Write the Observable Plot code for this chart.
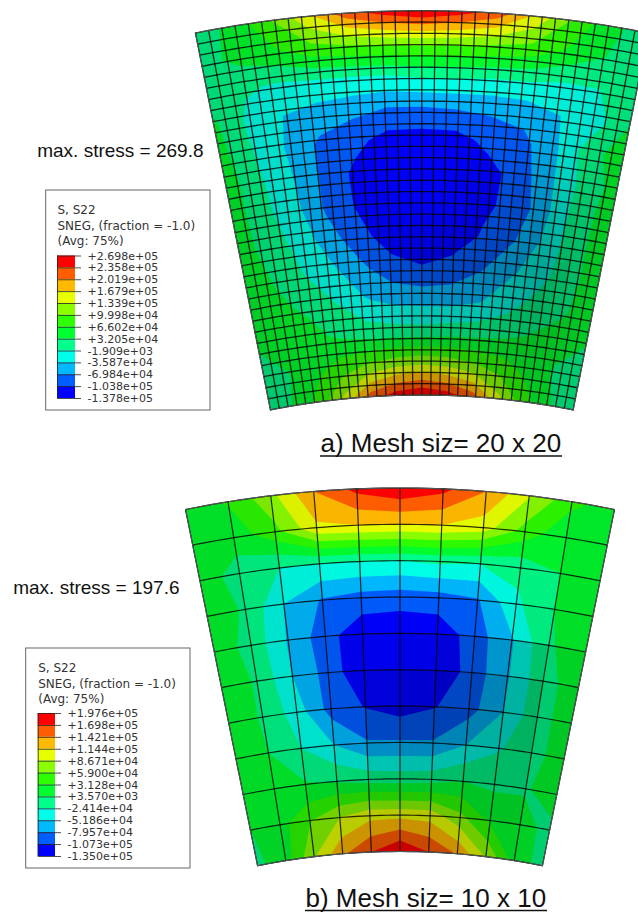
<!DOCTYPE html>
<html>
<head>
<meta charset="utf-8">
<script src="https://cdn.jsdelivr.net/npm/d3@7"></script>
<script src="https://cdn.jsdelivr.net/npm/@observablehq/plot@0.6"></script>
<style>html,body{margin:0;padding:0;background:#fff}</style>
</head>
<body>
<div id="chart"></div>
<script>
// Legend of each contour plot, top to bottom
const legendHeader = ["S, S22", "SNEG, (fraction = -1.0)", "(Avg: 75%)"];
const legendA = ["+2.698e+05","+2.358e+05","+2.019e+05","+1.679e+05","+1.339e+05","+9.998e+04","+6.602e+04","+3.205e+04","-1.909e+03","-3.587e+04","-6.984e+04","-1.038e+05","-1.378e+05"];
const legendB = ["+1.976e+05","+1.698e+05","+1.421e+05","+1.144e+05","+8.671e+04","+5.900e+04","+3.128e+04","+3.570e+03","-2.414e+04","-5.186e+04","-7.957e+04","-1.073e+05","-1.350e+05"];
// Band colours, lowest band first
const bandColors = ["#0000ff","#005dff","#00b9ff","#00ffe8","#00ff8b","#00ff2e","#2eff00","#8bff00","#e8ff00","#ffb900","#ff5d00","#ff0000"];

// Stress, in legend-band units (0 = legend minimum, 12 = legend maximum).
// Rows run from the outer arc to the inner arc, columns from left to right.
const fieldA = [
 [4.5,5.3,7.0,8.8,10.6,11.5,12,11.5,10.6,8.8,6.9,5.3,4.5],
 [4.6,5.3,5.8,6.7,7.0,7.2,7.3,7.2,7.0,6.7,5.8,5.0,4.6],
 [4.7,4.1,3.9,4.0,4.0,4.0,4.2,4.2,4.1,4.1,3.9,4.0,4.9],
 [5.2,3.8,3.0,2.6,2.3,2.0,2.0,2.1,2.2,2.4,3.0,3.5,5.0],
 [5.4,4.0,2.9,1.8,1.3,0.6,0.55,0.6,1.3,1.7,2.9,4.6,5.6],
 [5.6,4.2,3.1,1.8,0.75,0.4,0.3,0.3,0.6,1.5,2.9,4.4,5.4],
 [5.6,4.3,3.3,1.8,0.85,0.15,0.1,0.1,0.85,1.3,2.9,4.6,5.5],
 [5.6,4.5,3.7,2.4,1.3,0.5,0.3,0.5,1.1,1.9,3.2,4.7,5.5],
 [5.6,4.9,4.0,3.2,2.2,1.35,1.05,1.3,1.9,2.8,3.6,4.7,5.5],
 [5.6,5.2,4.8,4.0,3.1,2.7,2.6,2.6,2.9,3.6,4.4,4.9,5.5],
 [5.1,5.4,5.3,4.8,4.5,4.4,4.35,4.5,4.6,4.8,5.1,5.3,5.0],
 [4.6,5.0,5.7,6.5,7.1,7.6,7.8,7.6,7.1,6.5,5.7,4.9,4.4],
 [4.4,5.1,6.4,8.3,10.5,11.5,12,11.5,10.5,8.3,6.4,5.1,4.3]
];
const fieldB = [
 [5.5,6.1,7.7,10.0,11.3,11.9,11.3,10.0,8.1,6.3,5.5],
 [5.5,5.4,6.7,8.8,9.0,9.0,9.0,8.5,6.6,5.2,5.5],
 [5.5,4.6,4.0,4.0,4.0,4.0,4.2,4.0,4.3,5.0,5.5],
 [5.5,4.9,3.0,1.9,1.6,1.5,1.6,1.9,3.8,5.0,5.3],
 [5.5,4.7,2.9,1.4,0.3,0.2,0.3,1.5,2.9,4.9,5.5],
 [5.6,4.9,3.0,1.6,0.1,0.05,0.15,1.4,2.9,4.7,5.4],
 [5.6,4.9,3.5,1.6,0.95,0.55,0.95,1.6,3.0,4.7,5.4],
 [5.6,5.0,4.0,3.0,2.1,2.1,2.1,3.0,3.9,4.7,5.4],
 [5.6,5.3,5.1,4.9,4.6,4.5,4.6,5.0,4.8,4.9,5.6],
 [5.0,5.6,6.9,8.0,8.7,8.7,8.6,7.3,5.8,5.4,4.7],
 [4.8,5.5,7.9,9.8,11.0,12,11.0,9.9,7.9,5.6,4.6]
];
// Darkening of the rendered surface, as black opacity on a coarse grid
const shadeA = [
 [.15,.1,.03,0,.03,.08,.15],
 [.15,.1,.02,0,.02,.05,.12],
 [.17,.1,.03,0,.03,.1,.17],
 [.2,.15,.08,.02,.12,.28,.2],
 [.2,.15,.1,.2,.28,.36,.2],
 [.2,.15,.12,.22,.22,.28,.2],
 [.22,.2,.2,.2,.2,.2,.2]
];
const shadeB = [
 [.15,.08,.02,0,.02,.05,.12],
 [.15,.1,.02,0,.02,.05,.12],
 [.15,.1,.05,0,.03,.05,.15],
 [.15,.12,.1,.1,.22,.32,.15],
 [.15,.12,.12,.3,.3,.32,.18],
 [.15,.15,.2,.22,.22,.25,.18],
 [.18,.18,.2,.2,.2,.18,.18]
];

const rad = Math.PI / 180;
function fanMapper(f) {
  return (u, v) => { // u, v in 0..1
    const t = (2 * u - 1) * f.theta * rad, r = f.rOuter + (f.rInner - f.rOuter) * v;
    return [f.cx + r * Math.sin(t), f.cy - r * Math.cos(t)];
  };
}
function bilinear(m, u, v) {
  const n = m.length - 1, a = Math.min(n - 1e-9, u * n), b = Math.min(n - 1e-9, v * n);
  const i = Math.floor(a), j = Math.floor(b), s = a - i, t = b - j;
  return (m[j][i] * (1 - s) + m[j][i + 1] * s) * (1 - t) + (m[j + 1][i] * (1 - s) + m[j + 1][i + 1] * s) * t;
}
function bandFeatures(field, map) {
  const n = field.length, m = field[0].length;
  const cols = m, flat = field.flat();
  const cs = d3.contours().size([cols, n]).thresholds([-1, 1, 2, 3, 4, 5, 6, 7, 8, 9, 10, 11])(flat);
  const tr = ([a, b]) => {
    const u = (Math.min(cols - .5, Math.max(.5, a)) - .5) / (cols - 1);
    const v = (Math.min(n - .5, Math.max(.5, b)) - .5) / (n - 1);
    return map(u, v);
  };
  return cs.map(c => ({
    type: "MultiPolygon",
    band: Math.max(0, c.value),
    coordinates: c.coordinates.map(p => p.map(r => r.map(tr)))
  }));
}
function shadeCells(shade, map, n) {
  const out = [];
  for (let j = 0; j < n; j++) for (let i = 0; i < n; i++) {
    const ring = [map(i / n, j / n), map((i + 1) / n, j / n), map((i + 1) / n, (j + 1) / n), map(i / n, (j + 1) / n), map(i / n, j / n)];
    out.push({type: "Polygon", coordinates: [ring], alpha: bilinear(shade, (i + .5) / n, (j + .5) / n)});
  }
  return out;
}
function meshPoints(map, n, steps) {
  const pts = [];
  for (let i = 0; i <= n; i++) for (let s = 0; s <= steps; s++) {
    const [x, y] = map(i / n, s / steps); pts.push({x, y, id: "c" + i});
  }
  for (let j = 0; j <= n; j++) for (let s = 0; s <= steps; s++) {
    const [x, y] = map(s / steps, j / n); pts.push({x, y, id: "r" + j});
  }
  return pts;
}
function outlinePoints(map, steps) {
  const pts = [];
  for (let s = 0; s <= steps; s++) { const [x, y] = map(s / steps, 0); pts.push({x, y}); }
  for (let s = 0; s <= steps; s++) { const [x, y] = map(1, s / steps); pts.push({x, y}); }
  for (let s = steps; s >= 0; s--) { const [x, y] = map(s / steps, 1); pts.push({x, y}); }
  for (let s = steps; s >= 0; s--) { const [x, y] = map(0, s / steps); pts.push({x, y}); }
  return pts;
}
function fanMarks(f, field, shade, n, meshWidth) {
  const map = fanMapper(f);
  return [
    Plot.geo(bandFeatures(field, map), {fill: d => d.band, stroke: null}),
    Plot.geo(shadeCells(shade, map, n), {fill: "black", fillOpacity: d => d.alpha, stroke: null}),
    Plot.line(meshPoints(map, n, 48), {x: "x", y: "y", z: "id", stroke: "#000", strokeWidth: meshWidth, strokeOpacity: .8, curve: "linear"}),
    Plot.line(outlinePoints(map, 48), {x: "x", y: "y", stroke: "#555", strokeWidth: 1.1, curve: "linear"})
  ];
}
function legendMarks(l, labels) {
  const step = (l.y1 - l.y0) / (labels.length - 1);
  const idx = d3.range(labels.length), bars = d3.range(labels.length - 1);
  const font = {fontFamily: "DejaVu Sans", fontSize: 11, fill: "#333", textAnchor: "start"};
  return [
    Plot.rect([0], {x1: l.boxX0, x2: l.boxX1, y1: l.boxY0, y2: l.boxY1, fill: "white", stroke: "#666", strokeWidth: 1}),
    Plot.text(legendHeader, {x: l.barX0, y: (d, i) => l.headY + i * 15.2, text: d => d, ...font, fontSize: 12}),
    Plot.rect(bars, {x1: l.barX0, x2: l.barX1, y1: i => l.y0 + i * step, y2: i => l.y0 + (i + 1) * step, fill: i => 11 - i}),
    Plot.ruleY(idx, {y: i => l.y0 + i * step, x1: l.barX0, x2: l.tickX, stroke: "#222", strokeWidth: .8}),
    Plot.ruleX([l.barX0], {y1: l.y0, y2: l.y1, stroke: "#222", strokeWidth: .8}),
    Plot.text(labels, {x: l.labelX, y: (d, i) => l.y0 + i * step, text: d => d, ...font})
  ];
}
function caption(txt, x, y, size, anchor) {
  return Plot.text([txt], {x, y, text: d => d, fontFamily: "Liberation Sans", fontSize: size, fill: "#111", textAnchor: anchor || "start"});
}

const fanA = {cx: 421.3, cy: 1169.5, rOuter: 1159.3, rInner: 775, theta: 11.26};
const fanB = {cx: 399.5, cy: 1569, rOuter: 1081.5, rInner: 718, theta: 11.44};

const chart = Plot.plot({
  width: 638, height: 912, margin: 0,
  style: {background: "white"},
  x: {domain: [0, 638], range: [0, 638], axis: null},
  y: {domain: [0, 912], range: [0, 912], axis: null},
  color: {type: "ordinal", domain: d3.range(12), range: bandColors},
  opacity: {type: "identity"},
  marks: [
    ...fanMarks(fanA, fieldA, shadeA, 34, 1.3),
    ...fanMarks(fanB, fieldB, shadeB, 10, 1.2),
    ...legendMarks({boxX0: 45.7, boxX1: 210, boxY0: 190, boxY1: 410, barX0: 57, barX1: 75, tickX: 81, labelX: 87, y0: 255.5, y1: 398, headY: 210}, legendA),
    ...legendMarks({boxX0: 25.7, boxX1: 190, boxY0: 648, boxY1: 868, barX0: 37.7, barX1: 55, tickX: 61, labelX: 67, y0: 713, y1: 856, headY: 668}, legendB),
    caption("max. stress = 269.8", 36.7, 150.7, 19),
    caption("max. stress = 197.6", 12.7, 587.5, 19),
    caption("a) Mesh siz= 20 x 20", 320, 443, 26),
    caption("b) Mesh siz= 10 x 10", 305, 898, 26),
    Plot.ruleY([455.5], {x1: 320, x2: 562, stroke: "#111", strokeWidth: 1.6}),
    Plot.ruleY([910], {x1: 305, x2: 547, stroke: "#111", strokeWidth: 1.6})
  ]
});
document.getElementById("chart").append(chart);
</script>
</body>
</html>
